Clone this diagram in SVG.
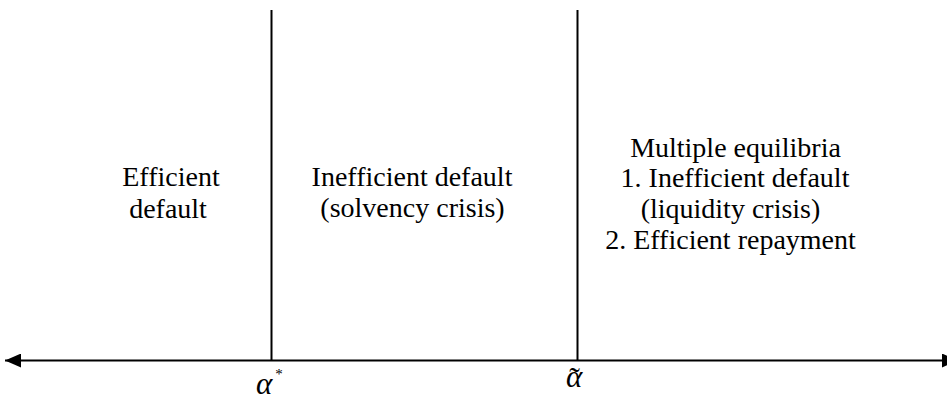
<svg xmlns="http://www.w3.org/2000/svg" width="947" height="400" viewBox="0 0 947 400">
<style>
.t{font-family:"Liberation Serif","Times New Roman",serif;font-size:28px;fill:#000;text-anchor:middle}
.m{font-family:"Liberation Serif","Times New Roman",serif;font-style:italic;font-size:31px;fill:#000}
.l{stroke:#000;stroke-width:2;fill:none}
</style>
<defs>
<marker id="ah" markerWidth="16" markerHeight="14" refX="16" refY="7" orient="auto-start-reverse" markerUnits="userSpaceOnUse" viewBox="0 0 16 14">
<path d="M0,0 L16,7 L0,14 Z" fill="#000"/>
</marker>
</defs>
<g id="connectors">
<line class="l" x1="5" y1="360.5" x2="958" y2="360.5" stroke-width="2.5" marker-start="url(#ah)" marker-end="url(#ah)"/>
<line class="l" x1="271.5" y1="10" x2="271.5" y2="360"/>
<line class="l" x1="577.5" y1="10" x2="577.5" y2="360"/>
</g>
<g id="region1">
<text class="t" x="171" y="186">Efficient</text>
<text class="t" x="168" y="217.5">default</text>
</g>
<g id="region2">
<text class="t" x="412" y="186">Inefficient default</text>
<text class="t" x="412.5" y="217">(solvency crisis)</text>
</g>
<g id="region3">
<text class="t" x="735.5" y="156.5">Multiple equilibria</text>
<text class="t" x="735" y="187">1. Inefficient default</text>
<text class="t" x="730.5" y="218">(liquidity crisis)</text>
<text class="t" x="730.5" y="248.5">2. Efficient repayment</text>
</g>
<g id="labels">
<text class="m" x="256" y="394">α<tspan dx="3" dy="-15" font-size="15" font-style="normal">*</tspan></text>
<text class="m" x="566" y="386.5">α<tspan dx="-13" dy="2" font-size="32" font-style="normal">˜</tspan></text>
</g>
</svg>
